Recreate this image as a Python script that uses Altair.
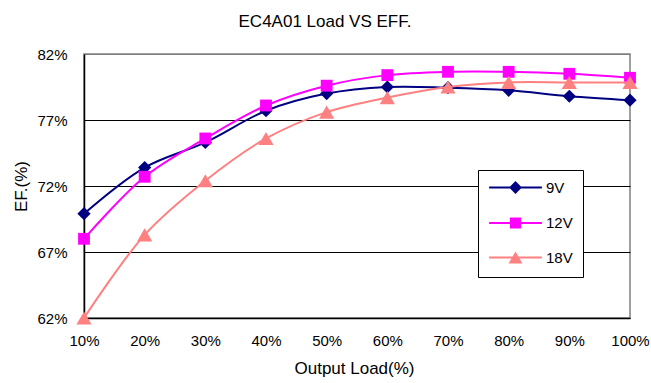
import altair as alt
import pandas as pd

# Efficiency (%) versus output load (%) for three input voltages
loads = [10, 20, 30, 40, 50, 60, 70, 80, 90, 100]
eff_9v = [69.9, 73.4, 75.3, 77.7, 79.0, 79.5, 79.45, 79.25, 78.8, 78.5]
eff_12v = [68.0, 72.7, 75.6, 78.1, 79.6, 80.4, 80.65, 80.65, 80.5, 80.2]
eff_18v = [62.0, 68.3, 72.4, 75.6, 77.6, 78.7, 79.5, 79.85, 79.85, 79.85]

series_names = ["9V", "12V", "18V"]
series_colors = ["#000080", "#FF00FF", "#FF8080"]
marker_shapes = ["diamond", "square", "triangle-up"]
marker_sizes = [175, 140, 230]
y_ticks = [62, 67, 72, 77, 82]

rows = []
for name, values in zip(series_names, [eff_9v, eff_12v, eff_18v]):
    for load, eff in zip(loads, values):
        rows.append({"load": load, "eff": eff, "series": name})
df = pd.DataFrame(rows)

FONT = "Liberation Sans"

x_enc = alt.X(
    "load:Q",
    scale=alt.Scale(domain=[10, 100], nice=False, zero=False),
    axis=alt.Axis(
        values=loads,
        labelExpr="datum.value + '%'",
        title="Output Load(%)",
        grid=False,
        ticks=False,
        domainColor="#000000",
        domainWidth=1.5,
        labelFontSize=15,
        labelColor="#000000",
        labelPadding=15,
        labelFlush=False,
        titleFontSize=17,
        titleFontWeight="normal",
        titleColor="#000000",
        titleX=270,
        titleY=50,
        titleBaseline="middle",
    ),
)
y_enc = alt.Y(
    "eff:Q",
    scale=alt.Scale(domain=[62, 82], nice=False, zero=False),
    axis=alt.Axis(
        values=y_ticks,
        labelExpr="datum.value + '%'",
        title="EF.(%)",
        grid=True,
        gridColor=alt.condition("datum.value == 82", alt.value("#808080"), alt.value("#000000")),
        gridWidth=1,
        ticks=False,
        domainColor="#000000",
        domainWidth=1.5,
        labelFontSize=15,
        labelColor="#000000",
        labelPadding=17,
        labelFlush=False,
        titleFontSize=17,
        titleFontWeight="normal",
        titleColor="#000000",
        titleAngle=-90,
        titleX=-63,
        titleY=132,
        titleAlign="center",
        titleBaseline="middle",
    ),
)

base = alt.Chart(df)

# Smoothed curve plus markers for each series
series_layers = []
for name, color, shape, size in zip(series_names, series_colors, marker_shapes, marker_sizes):
    subset = base.transform_filter(alt.datum.series == name)
    series_layers.append(
        subset.mark_line(interpolate="catmull-rom", strokeWidth=2, color=color).encode(x=x_enc, y=y_enc)
    )
    series_layers.append(
        subset.mark_point(filled=True, opacity=1, shape=shape, size=size, color=color).encode(x=x_enc, y=y_enc)
    )

# Legend symbols: a line segment with the series marker on it. The marker is
# built from nested outlines so that the stroked symbol reads as solid.
legend_paths = [
    "M-4.4,0L4.4,0"
    "M0,-0.83L0.83,0L0,0.83L-0.83,0Z"
    "M0,-0.37L0.37,0L0,0.37L-0.37,0Z"
    "M0,-0.13L0.13,0L0,0.13L-0.13,0Z",
    "M-4.4,0L4.4,0"
    "M-0.77,-0.77L0.77,-0.77L0.77,0.77L-0.77,0.77Z"
    "M-0.43,-0.43L0.43,-0.43L0.43,0.43L-0.43,0.43Z"
    "M-0.13,-0.13L0.13,-0.13L0.13,0.13L-0.13,0.13Z",
    "M-4.4,0L4.4,0"
    "M0,-0.68L0.878,0.84L-0.878,0.84Z"
    "M0,-0.014L0.3,0.503L-0.3,0.503Z",
]

# Colour of a legend entry, looked up from its value
entry_color = "".join(
    f"datum.value === '{n}' ? '{c}' : " for n, c in zip(series_names[:-1], series_colors[:-1])
) + f"'{series_colors[-1]}'"

legend_def = alt.Legend(
    title=None,
    orient="none",
    legendX=394,
    legendY=116,
    direction="vertical",
    fillColor="#FFFFFF",
    strokeColor="#000000",
    padding=10,
    symbolOffset=20,
    labelOffset=23,
    labelFont=FONT,
    labelFontSize=15,
    labelColor="#000000",
    rowPadding=16.5,
    symbolSize=144,
    symbolStrokeWidth=2,
    symbolOpacity=1,
)
legend_layer = base.mark_point(
    clip=True,
    filled=False,
    strokeWidth=2,
    fill=alt.ExprRef(entry_color),
    stroke=alt.ExprRef(entry_color),
).encode(
    x=alt.value(-300),
    y=alt.value(-300),
    shape=alt.Shape("series:N", scale=alt.Scale(domain=series_names, range=legend_paths), legend=legend_def),
)

chart = (
    alt.layer(*series_layers, legend_layer)
    .properties(
        width=546,
        height=264,
        autosize=alt.AutoSizeParams(type="none"),
        padding={"left": 84, "top": 54, "right": 21, "bottom": 65},
        title=alt.TitleParams(
            "EC4A01 Load VS EFF.",
            fontSize=17,
            fontWeight="normal",
            font=FONT,
            color="#000000",
            anchor="middle",
            dx=-32,
            offset=16,
        ),
        background="#FFFFFF",
    )
    .configure(font=FONT)
    .configure_view(stroke="#808080", strokeWidth=1.5)
)

chart.save("out.html", embed_options={"renderer": "svg", "actions": False})
